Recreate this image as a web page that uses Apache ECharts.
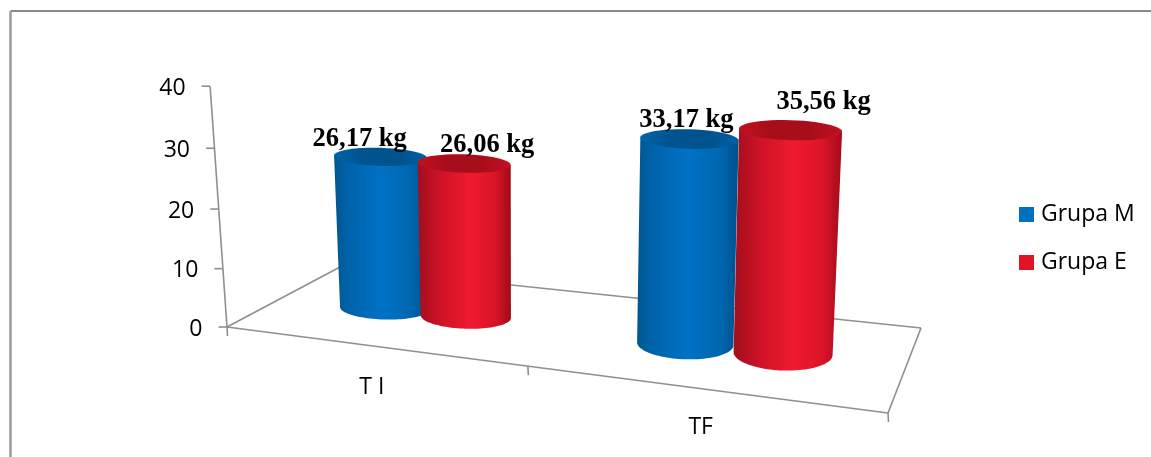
<!DOCTYPE html>
<html>
<head>
<meta charset="utf-8">
<style>html,body{margin:0;padding:0;background:#fff}#chart{width:1151px;height:457px}</style>
<script src="https://cdn.jsdelivr.net/npm/echarts@6/dist/echarts.min.js"></script>
</head>
<body>
<div id="chart"></div>
<script>
// Chart data
const categories = ['T I', 'TF'];
const grupaM = [26.17, 33.17];
const grupaE = [26.06, 35.56];
const valueTicks = [0, 10, 20, 30, 40];
const unit = ' kg';

// Floor quad of the 3D scene, in the order front-left, front-right, back-right, back-left
const floorQuad = [[227, 327], [888, 413], [921, 328], [340, 267]];
// Nudges for the category labels below the front edge of the floor
const categoryLabelOffset = [[4, 42], [5, 39]];
// Category boundaries along the front edge of the floor
const categoryBoundaries = [0, 0.507, 1];

// Square-to-quad homography coefficients for the floor
const homography = (function () {
  const [[x0, y0], [x1, y1], [x2, y2], [x3, y3]] = floorQuad;
  const dx1 = x1 - x2, dx2 = x3 - x2, sx = x0 - x1 + x2 - x3;
  const dy1 = y1 - y2, dy2 = y3 - y2, sy = y0 - y1 + y2 - y3;
  const det = dx1 * dy2 - dx2 * dy1;
  const g = (sx * dy2 - dx2 * sy) / det;
  const h = (dx1 * sy - sx * dy1) / det;
  return { a: x1 - x0 + g * x1, b: x3 - x0 + h * x3, c: x0, d: y1 - y0 + g * y1, e: y3 - y0 + h * y3, f: y0, g, h };
})();

function floorPoint(u, v) {
  const m = homography;
  const w = m.g * u + m.h * v + 1;
  return [(m.a * u + m.b * v + m.c) / w, (m.d * u + m.e * v + m.f) / w];
}

// Projects a point on the floor raised by a normalised height (0..1 of the value axis)
function project(u, v, n) {
  const base = floorPoint(u, v);
  const value = n * 40;
  const unitPx = (5.2 + 0.001075 * base[0]) * (1 + (0.5 - v) * 0.12);
  const h = value * unitPx * (1 + 0.00108 * value);
  const lean = (base[0] - 540) * 0.00014 * (1 + (0.48 - v) * 1.25);
  return [base[0] + lean * h, base[1] - h];
}

const AXIS_COLOR = '#8f8f8f';
const TEXT_FONT = '23px "Open Sans", sans-serif';

function line(p, q, width) {
  return {
    type: 'line',
    shape: { x1: p[0], y1: p[1], x2: q[0], y2: q[1] },
    style: { stroke: AXIS_COLOR, lineWidth: width || 1.6 }
  };
}

// Floor outline, the leaning value axis, tick marks and both sets of axis labels
function renderAxes(params, api) {
  const cs = params.coordSys;
  const children = [
    line(floorQuad[0], floorQuad[1]),
    line(floorQuad[1], floorQuad[2]),
    line(floorQuad[2], floorQuad[3]),
    line(floorQuad[3], floorQuad[0])
  ];
  const top = project(0, 0, 1);
  children.push(line(floorQuad[0], top));
  valueTicks.forEach(function (t) {
    const n = (cs.y + cs.height - api.coord([0, t])[1]) / cs.height;
    const p = project(0, 0, n);
    children.push(line([p[0] - 8.5, p[1]], p));
    children.push({
      type: 'text',
      style: { text: String(t), x: p[0] - 24.5, y: p[1] + 2, align: 'right', verticalAlign: 'middle', font: TEXT_FONT, fill: '#000' }
    });
  });
  categoryBoundaries.forEach(function (u) {
    const p = floorPoint(u, 0);
    children.push(line(p, [p[0] + 0.5, p[1] + 9]));
  });
  categories.forEach(function (name, i) {
    const u = (api.coord([i, 0])[0] - cs.x) / cs.width;
    const p = floorPoint(u, 0);
    const nudge = categoryLabelOffset[i];
    children.push({
      type: 'text',
      style: { text: name, x: p[0] + nudge[0], y: p[1] + nudge[1], align: 'center', verticalAlign: 'middle', font: TEXT_FONT, fill: '#000' }
    });
  });
  return { type: 'group', children };
}

function arc(cx, cy, rx, ry, tilt, from, to) {
  const pts = [];
  const steps = 48;
  for (let k = 0; k <= steps; k++) {
    const a = from + (to - from) * k / steps;
    const dx = rx * Math.cos(a);
    pts.push([cx + dx, cy + ry * Math.sin(a) + tilt * dx]);
  }
  return pts;
}

function shade(stops) {
  return new echarts.graphic.LinearGradient(0, 0, 1, 0, stops.map(function (c) {
    return { offset: c[0], color: c[1] };
  }));
}

// One cylinder per data item; the axes supply the category slot and the value height
function cylinderRenderer(look) {
  return function (params, api) {
    const cs = params.coordSys;
    const i = api.value(0);
    const val = api.value(1);
    const u = (api.coord([i, 0])[0] - cs.x) / cs.width + look.du;
    const n = (cs.y + cs.height - api.coord([i, val])[1]) / cs.height;
    const b = project(u, look.v, 0);
    const t = project(u, look.v, n);
    const off = b[0] - 382;
    const rxB = 44 + off * 0.0137;
    const rxT = rxB * look.flare[i];
    const ryB = 11 + off * 0.015;
    const ryT = 9 + off * 0.0025;
    const tilt = 0.03;
    const body = [[t[0] - rxT, t[1] - tilt * rxT]]
      .concat(arc(b[0], b[1], rxB, ryB, tilt, Math.PI, 0))
      .concat([[t[0] + rxT, t[1] + tilt * rxT]]);
    const lid = arc(t[0], t[1], rxT, ryT, tilt, 0, Math.PI * 2);
    const offset = look.label[i];
    return {
      type: 'group',
      children: [
        { type: 'polygon', shape: { points: body }, style: { fill: shade(look.side) } },
        { type: 'polygon', shape: { points: lid }, style: { fill: shade(look.lid) } },
        {
          type: 'text',
          z2: 100,
          style: {
            text: val.toFixed(2).replace('.', ',') + unit,
            x: t[0] + offset[0], y: t[1] + offset[1],
            align: 'center', verticalAlign: 'middle',
            font: 'bold 26.5px "Liberation Serif", serif', fill: '#000'
          }
        }
      ]
    };
  };
}

const lookM = {
  du: -0.061, v: 0.47, flare: [1.06, 1.02],
  side: [[0, '#00568f'], [0.14, '#0062a8'], [0.5, '#0072c6'], [0.82, '#0066b0'], [1, '#00508a']],
  lid: [[0, '#0062a8'], [0.3, '#00548f'], [0.7, '#00528c'], [1, '#0060a4']],
  label: [[-21, -18], [-3, -19]]
};
const lookE = {
  du: 0.081, v: 0.49, flare: [1.03, 1.04],
  side: [[0, '#a00e1c'], [0.22, '#cb1226'], [0.55, '#ef1a2e'], [0.82, '#dc1428'], [1, '#a00c1a']],
  lid: [[0, '#c01122'], [0.3, '#a80d1b'], [0.7, '#a80d1b'], [1, '#c01122']],
  label: [[23, -18], [33, -28]]
};

const chart = echarts.init(document.getElementById('chart'), null, { renderer: 'canvas' });
chart.setOption({
  animation: false,
  backgroundColor: '#ffffff',
  grid: { left: 227, top: 87, width: 661, height: 240 },
  xAxis: { type: 'category', data: categories, show: false },
  yAxis: { type: 'value', min: 0, max: 40, interval: 10, show: false },
  legend: {
    orient: 'vertical',
    left: 1019,
    top: 203,
    padding: 0,
    itemWidth: 15,
    itemHeight: 15,
    itemGap: 25,
    icon: 'rect',
    selectedMode: false,
    data: ['Grupa M', 'Grupa E'],
    textStyle: { fontFamily: '"Open Sans", sans-serif', fontSize: 23, color: '#000', padding: [0, 0, 0, 2] }
  },
  // Outer chart frame: only the top and left edges are drawn
  graphic: [
    { type: 'line', shape: { x1: 10.5, y1: 11, x2: 1151, y2: 11 }, style: { stroke: '#8a8a8a', lineWidth: 2 } },
    { type: 'line', shape: { x1: 10.5, y1: 11, x2: 10.5, y2: 457 }, style: { stroke: '#9a9a9a', lineWidth: 2.5 } }
  ],
  series: [
    { name: 'axes', type: 'custom', z: 1, renderItem: renderAxes, data: [[0, 0]], encode: { x: 0, y: 1 }, silent: true },
    { name: 'Grupa M', type: 'custom', z: 2, itemStyle: { color: '#0070c0' }, renderItem: cylinderRenderer(lookM),
      data: grupaM.map(function (v, i) { return [i, v]; }), encode: { x: 0, y: 1 } },
    { name: 'Grupa E', type: 'custom', z: 3, itemStyle: { color: '#e31326' }, renderItem: cylinderRenderer(lookE),
      data: grupaE.map(function (v, i) { return [i, v]; }), encode: { x: 0, y: 1 } }
  ]
});
</script>
</body>
</html>
